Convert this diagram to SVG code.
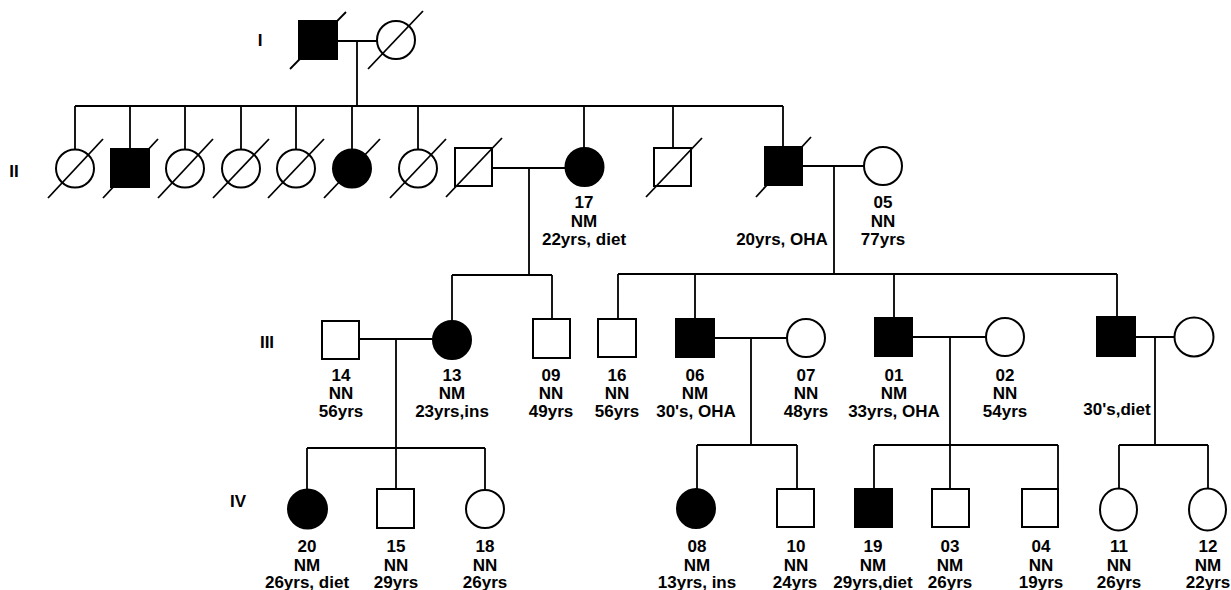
<svg xmlns="http://www.w3.org/2000/svg" width="1231" height="590" viewBox="0 0 1231 590">
<style>
.s{fill:#fff;stroke:#000;stroke-width:2}
.f{fill:#000;stroke:#000;stroke-width:2}
.l{stroke:#000;stroke-width:1.8;fill:none}
.d{stroke:#000;stroke-width:1.8}
text{font-family:"Liberation Sans",Arial,sans-serif;font-weight:bold;font-size:17px;text-anchor:middle;fill:#000}
</style>
<rect width="1231" height="590" fill="#fff"/>
<g id="gen-labels">
<text x="260" y="46">I</text>
<text x="14" y="177">II</text>
<text x="267" y="348">III</text>
<text x="238" y="507">IV</text>
</g>
<g id="connectors" class="l">
<path d="M337 41H377M357 41V106"/>
<path d="M75 106H783M75 106V149M130 106V149M185 106V149M241 106V149M296 106V149M352 106V149M418 106V149M584 106V148M673 106V148M783 106V147"/>
<path d="M492 168H566M529 168V275M452 275H552M452 275V321M552 275V319"/>
<path d="M802 166H864M834 166V274M618 274H1117M618 274V319M695 274V319M894 274V318M1117 274V317"/>
<path d="M359 339H433M396 339V489M307 448H485M307 448V490M485 448V490"/>
<path d="M714 338H787M751 338V445M697 445H797M697 445V489M797 445V489"/>
<path d="M912 337H986M950 337V489M874 445H1058M874 445V489M1058 445V489"/>
<path d="M1135 337H1175M1155 337V445M1119 445H1208M1119 445V488M1208 445V488"/>
</g>
<g id="I-1"><rect class="f" x="299" y="21" width="38" height="38"/><line class="d" x1="290" y1="69" x2="346" y2="12"/></g>
<g id="I-2"><circle class="s" cx="396" cy="40" r="19"/><line class="d" x1="368" y1="69" x2="423" y2="11"/></g>
<g id="II-1"><circle class="s" cx="75" cy="168.5" r="19"/><line class="d" x1="48" y1="198" x2="103" y2="139"/></g>
<g id="II-2"><rect class="f" x="111" y="149" width="38" height="38"/><line class="d" x1="103" y1="198" x2="158" y2="139"/></g>
<g id="II-3"><circle class="s" cx="185" cy="168.5" r="19"/><line class="d" x1="158" y1="198" x2="213" y2="139"/></g>
<g id="II-4"><circle class="s" cx="241" cy="168.5" r="19"/><line class="d" x1="213" y1="198" x2="269" y2="139"/></g>
<g id="II-5"><circle class="s" cx="296" cy="168.5" r="19"/><line class="d" x1="268" y1="198" x2="324" y2="139"/></g>
<g id="II-6"><circle class="f" cx="352" cy="168.5" r="19"/><line class="d" x1="324" y1="198" x2="380" y2="139"/></g>
<g id="II-7"><circle class="s" cx="418" cy="168.5" r="19"/><line class="d" x1="390" y1="198" x2="446" y2="139"/></g>
<g id="II-8"><rect class="s" x="455" y="148" width="37" height="38"/><line class="d" x1="446" y1="197" x2="502" y2="138"/></g>
<g id="II-17"><circle class="f" cx="584.5" cy="167" r="19"/><text x="584" y="208">17</text><text x="584" y="226.5">NM</text><text x="584" y="245">22yrs, diet</text></g>
<g id="II-9"><rect class="s" x="654" y="148" width="37" height="38"/><line class="d" x1="646" y1="197" x2="702" y2="138"/></g>
<g id="II-10"><rect class="f" x="765" y="147" width="37" height="38"/><line class="d" x1="756" y1="197" x2="811" y2="137"/><text x="782" y="245">20yrs, OHA</text></g>
<g id="II-05"><circle class="s" cx="883" cy="166" r="19"/><text x="883" y="208">05</text><text x="883" y="226.5">NN</text><text x="883" y="245">77yrs</text></g>
<g id="III-14"><rect class="s" x="322" y="321" width="37" height="38"/><text x="341" y="381">14</text><text x="341" y="399">NN</text><text x="341" y="416.5">56yrs</text></g>
<g id="III-13"><circle class="f" cx="452" cy="340" r="19"/><text x="452" y="381">13</text><text x="452" y="399">NM</text><text x="452" y="416.5">23yrs,ins</text></g>
<g id="III-09"><rect class="s" x="533" y="319" width="37" height="39"/><text x="551" y="381">09</text><text x="551" y="399">NN</text><text x="551" y="416.5">49yrs</text></g>
<g id="III-16"><rect class="s" x="598" y="319" width="38" height="38"/><text x="617" y="381">16</text><text x="617" y="399">NN</text><text x="617" y="416.5">56yrs</text></g>
<g id="III-06"><rect class="f" x="676" y="319" width="38" height="38"/><text x="695" y="381">06</text><text x="695" y="399">NM</text><text x="696" y="416.5">30's, OHA</text></g>
<g id="III-07"><circle class="s" cx="806" cy="338" r="19"/><text x="806" y="381">07</text><text x="806" y="399">NN</text><text x="806" y="416.5">48yrs</text></g>
<g id="III-01"><rect class="f" x="875" y="318" width="37" height="38"/><text x="894" y="381">01</text><text x="894" y="399">NM</text><text x="894" y="416.5">33yrs, OHA</text></g>
<g id="III-02"><circle class="s" cx="1005" cy="337" r="19"/><text x="1005" y="381">02</text><text x="1005" y="399">NN</text><text x="1005" y="416.5">54yrs</text></g>
<g id="III-r"><rect class="f" x="1097" y="317" width="38" height="39"/><text x="1117" y="415">30's,diet</text></g>
<g id="III-rw"><circle class="s" cx="1194" cy="337" r="19.5"/></g>
<g id="IV-20"><circle class="f" cx="307.5" cy="509" r="19.5"/><text x="307" y="552">20</text><text x="307" y="570.5">NM</text><text x="307" y="588">26yrs, diet</text></g>
<g id="IV-15"><rect class="s" x="377" y="489" width="37" height="39"/><text x="396" y="552">15</text><text x="396" y="570.5">NN</text><text x="396" y="588">29yrs</text></g>
<g id="IV-18"><circle class="s" cx="485" cy="509" r="19"/><text x="485" y="552">18</text><text x="485" y="570.5">NN</text><text x="485" y="588">26yrs</text></g>
<g id="IV-08"><ellipse class="f" cx="696" cy="508.5" rx="19" ry="19.5"/><text x="697" y="552">08</text><text x="697" y="570.5">NM</text><text x="697" y="588">13yrs, ins</text></g>
<g id="IV-10"><rect class="s" x="777" y="489" width="37" height="38"/><text x="796" y="552">10</text><text x="796" y="570.5">NN</text><text x="795" y="588">24yrs</text></g>
<g id="IV-19"><rect class="f" x="855" y="489" width="37" height="38"/><text x="873" y="552">19</text><text x="873" y="570.5">NM</text><text x="873" y="588">29yrs,diet</text></g>
<g id="IV-03"><rect class="s" x="932" y="489" width="37" height="38"/><text x="950" y="552">03</text><text x="950" y="570.5">NM</text><text x="950" y="588">26yrs</text></g>
<g id="IV-04"><rect class="s" x="1022" y="489" width="36" height="38"/><text x="1041" y="552">04</text><text x="1041" y="570.5">NN</text><text x="1041" y="588">19yrs</text></g>
<g id="IV-11"><ellipse class="s" cx="1118.5" cy="509.5" rx="18.5" ry="21"/><text x="1119" y="552">11</text><text x="1119" y="570.5">NN</text><text x="1119" y="588">26yrs</text></g>
<g id="IV-12"><ellipse class="s" cx="1207.5" cy="509.5" rx="18.5" ry="21"/><text x="1208" y="552">12</text><text x="1208" y="570.5">NM</text><text x="1208" y="588">22yrs</text></g>
</svg>
